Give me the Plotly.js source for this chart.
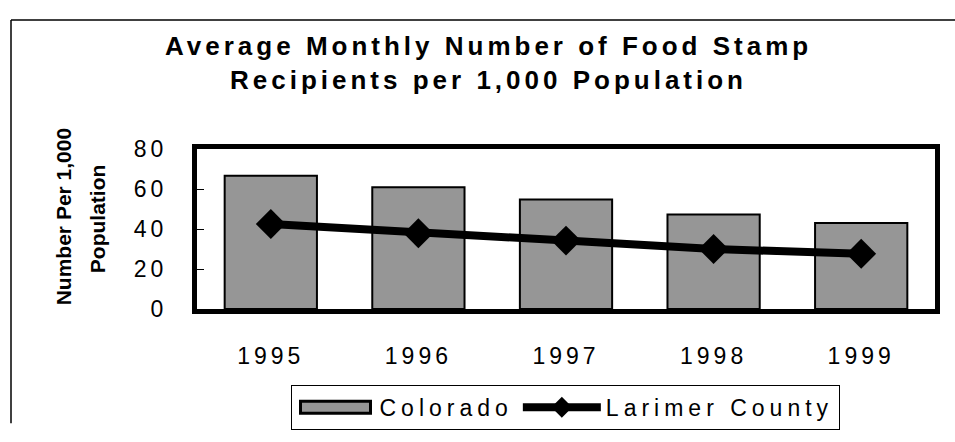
<!DOCTYPE html>
<html>
<head>
<meta charset="utf-8">
<script src="https://cdn.plot.ly/plotly-3.0.1.min.js"></script>
<style>
  html, body { margin: 0; padding: 0; background: #fff; overflow: hidden; }
  #chart { width: 955px; height: 442px; }
  g.annotation[data-index="2"] text, g.annotation[data-index="3"] text { letter-spacing: 4px; }
  .xtick text, .ytick text { letter-spacing: 4px; }
  .legendtext { letter-spacing: 5px; }
</style>
</head>
<body>
<div id="chart"></div>
<script>
const years = ['1995', '1996', '1997', '1998', '1999'];
const colorado = [66.6, 60.9, 54.7, 47.3, 43.0];
const larimer = [42.5, 37.9, 34.2, 30.0, 27.6];
const yTicks = [0, 20, 40, 60, 80];
const titleLines = ['Average Monthly Number of Food Stamp', 'Recipients per 1,000 Population'];
const yTitleLines = ['Number Per 1,000', 'Population'];

const FONT = 'Liberation Sans, Arial, sans-serif';

const data = [
  {
    type: 'bar',
    name: 'Colorado',
    x: years,
    y: colorado,
    marker: { color: '#969696', line: { color: '#000', width: 2 } }
  },
  {
    type: 'scatter',
    mode: 'lines+markers',
    name: 'Larimer County',
    x: years,
    y: larimer,
    line: { color: '#000', width: 8 },
    marker: { symbol: 'diamond', size: 23, color: '#000' }
  }
];

const L = 197, R = 935, T = 149, B = 320, W = 955, H = 442;
const pw = R - L, ph = B - T;
const px = v => (v - L) / pw;
const py = v => (B - v) / ph;

const layout = {
  width: W, height: H,
  margin: { l: L, r: W - R, t: T, b: H - B, pad: 0 },
  paper_bgcolor: '#fff', plot_bgcolor: '#fff',
  font: { family: FONT, color: '#000' },
  bargap: 0.375,
  showlegend: true,
  legend: {
    orientation: 'h',
    x: px(565), xanchor: 'center',
    y: py(401), yanchor: 'top',
    bordercolor: '#000', borderwidth: 1,
    font: { family: FONT, size: 23, color: '#000' },
    itemwidth: 78,
    traceorder: 'normal'
  },
  xaxis: {
    type: 'category',
    showline: true, mirror: true, linecolor: '#000', linewidth: 5,
    ticks: '', showgrid: false, zeroline: false,
    tickfont: { family: FONT, size: 23, color: '#000' },
    ticklabelstandoff: 22
  },
  yaxis: {
    range: [0, 80],
    tickvals: yTicks,
    ticktext: yTicks.map(String),
    showline: true, mirror: true, linecolor: '#000', linewidth: 5,
    ticks: 'inside', ticklen: 7, tickwidth: 1, tickcolor: '#000',
    showgrid: false, zeroline: false,
    tickfont: { family: FONT, size: 23, color: '#000' },
    ticklabelstandoff: 20
  },
  annotations: [
    {
      text: yTitleLines[0], textangle: -90, showarrow: false,
      xref: 'paper', yref: 'paper', x: px(63), y: py(222),
      xanchor: 'center', yanchor: 'middle',
      font: { family: FONT, size: 21, weight: 'bold', color: '#000' }
    },
    {
      text: yTitleLines[1], textangle: -90, showarrow: false,
      xref: 'paper', yref: 'paper', x: px(97), y: py(224),
      xanchor: 'center', yanchor: 'middle',
      font: { family: FONT, size: 21, weight: 'bold', color: '#000' }
    },
    {
      text: titleLines[0], showarrow: false,
      xref: 'paper', yref: 'paper', x: px(488), y: py(39),
      xanchor: 'center', yanchor: 'middle',
      font: { family: FONT, size: 26, weight: 'bold', color: '#000' }
    },
    {
      text: titleLines[1], showarrow: false,
      xref: 'paper', yref: 'paper', x: px(488), y: py(75),
      xanchor: 'center', yanchor: 'middle',
      font: { family: FONT, size: 26, weight: 'bold', color: '#000' }
    }
  ],
  shapes: [
    {
      type: 'line', xref: 'paper', yref: 'paper',
      x0: px(11), x1: px(11), y0: py(11), y1: py(442),
      line: { color: '#000', width: 1.5 }, layer: 'below'
    },
    {
      type: 'line', xref: 'paper', yref: 'paper',
      x0: px(11), x1: px(955), y0: py(11), y1: py(11),
      line: { color: '#000', width: 1.5 }, layer: 'below'
    }
  ]
};

Plotly.newPlot('chart', data, layout, { staticPlot: true, displayModeBar: false }).then(gd => {
  const traces = gd.querySelectorAll('.legend .traces');
  if (traces[0]) {
    const p = traces[0].querySelector('.legendpoints path');
    if (p) {
      const b = p.getBBox();
      const cx = b.x + b.width / 2, cy = b.y + b.height / 2;
      p.setAttribute('d', `M${cx - 35},${cy + 6}H${cx + 35}V${cy - 6}H${cx - 35}Z`);
      p.style.strokeWidth = '3px';
    }
  }
});
</script>
</body>
</html>
